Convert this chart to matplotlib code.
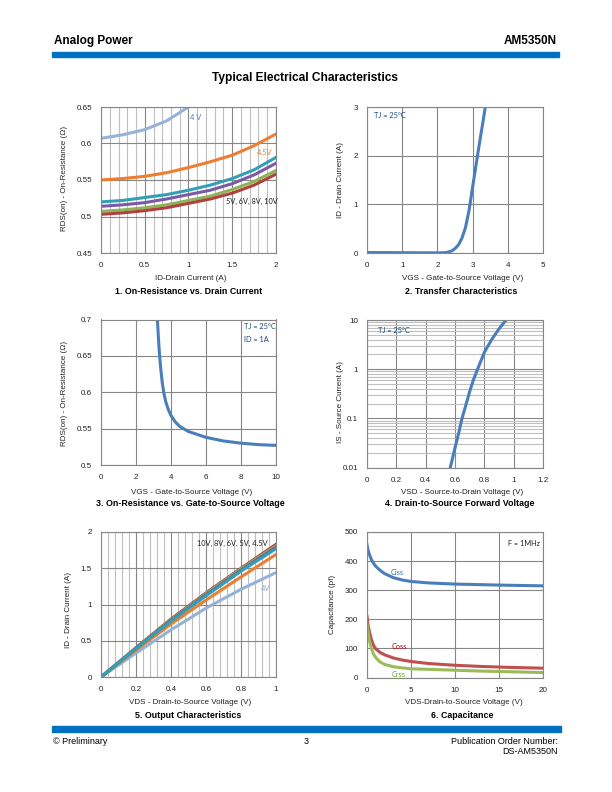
import matplotlib.pyplot as plt
from matplotlib.patches import Rectangle
from matplotlib.ticker import MultipleLocator, FormatStrFormatter, LogLocator, FuncFormatter

plt.rcParams['font.family'] = ['Liberation Sans', 'DejaVu Sans']

# ================= DATA =================

# 1. On-Resistance vs. Drain Current
id_x = [0, 0.25, 0.5, 0.75, 1.0, 1.25, 1.5, 1.75, 2.0]
rds_4v = [0.607, 0.612, 0.619, 0.631, 0.650, 0.672]
rds_45v = [0.550, 0.552, 0.555, 0.560, 0.567, 0.575, 0.584, 0.597, 0.613]
rds_5v = [0.520, 0.522, 0.526, 0.530, 0.536, 0.543, 0.552, 0.564, 0.581]
rds_6v = [0.514, 0.516, 0.519, 0.524, 0.530, 0.536, 0.545, 0.557, 0.573]
rds_8v = [0.507, 0.509, 0.512, 0.516, 0.522, 0.528, 0.537, 0.548, 0.563]
rds_10v = [0.503, 0.505, 0.508, 0.512, 0.518, 0.524, 0.532, 0.543, 0.558]

# 2. Transfer Characteristics
vgs_tr = [0, 1, 2, 2.2, 2.3, 2.4, 2.5, 2.6, 2.7, 2.8, 2.9, 3.0, 3.1, 3.2, 3.3, 3.36]
id_tr = [0.01, 0.006, 0.003, 0.006, 0.018, 0.04, 0.09, 0.17, 0.31, 0.53, 0.88, 1.35, 1.82, 2.28, 2.72, 3.0]

# 3. On-Resistance vs. Gate-to-Source Voltage
vgs_r = [3.22, 3.26, 3.3, 3.35, 3.4, 3.5, 3.6, 3.7, 3.85, 4.0, 4.25, 4.5, 5, 5.5, 6, 7, 8, 9, 10]
rds_vgs = [0.70, 0.684, 0.667, 0.650, 0.636, 0.613, 0.598, 0.587, 0.576, 0.568, 0.559, 0.553,
           0.546, 0.542, 0.538, 0.533, 0.530, 0.528, 0.527]

# 4. Drain-to-Source Forward Voltage
vsd = [0.568, 0.60, 0.625, 0.648, 0.675, 0.70, 0.725, 0.754, 0.80, 0.85, 0.90, 0.925, 0.948]
is_cur = [0.01, 0.025, 0.05, 0.1, 0.19, 0.35, 0.6, 1.0, 2.2, 4.0, 6.6, 8.2, 10]

# 5. Output Characteristics
vds_out = [0, 0.2, 0.4, 0.6, 0.8, 1.0]
out_4v = [0, 0.33, 0.65, 0.95, 1.21, 1.44]
out_45v = [0, 0.37, 0.73, 1.06, 1.38, 1.69]
out_5v = [0, 0.39, 0.77, 1.12, 1.46, 1.77]
out_6v = [0, 0.395, 0.78, 1.135, 1.475, 1.79]
out_8v = [0, 0.40, 0.79, 1.15, 1.49, 1.81]
out_10v = [0, 0.405, 0.80, 1.16, 1.50, 1.83]

# 6. Capacitance
vds_cap = [0, 0.1, 0.25, 0.5, 0.75, 1, 1.5, 2, 3, 4, 5, 7, 10, 13, 16, 20]
ciss = [456, 440, 425, 405, 392, 382, 368, 357, 343, 335, 330, 325, 321, 319, 317, 315]
coss = [210, 185, 160, 130, 110, 98, 86, 78, 67, 60, 55, 48, 42, 38, 35, 32]
crss = [185, 160, 130, 100, 80, 68, 53, 45, 37, 33, 30, 28, 25, 22, 20, 17]

# ================= STYLE =================

W, H = 612, 792
MAJOR = '#868686'
MINOR = '#BFBFBF'
BLUE = '#4A7EBB'
NAVY = '#1F497D'
NOTE = ['Lato', 'DejaVu Sans']
LW = 2.2


def px(x, y):
    return x / W, 1 - y / H


def make_ax(x0, x1, y0, y1):
    ax = fig.add_axes([x0 / W, 1 - y1 / H, (x1 - x0) / W, (y1 - y0) / H])
    for s in ax.spines.values():
        s.set_color(MAJOR)
        s.set_linewidth(0.8)
    ax.tick_params(which='both', length=0, labelsize=5.8, pad=6.5, colors='#222222')
    ax.set_axisbelow(True)
    return ax


def labels(cx, ty, xlabel, title, lx, ly, ylabel):
    fig.text(*px(cx, ty), xlabel, ha='center', va='center', fontsize=5.8, color='#222222')
    fig.text(*px(cx - 2, ty + 12), title, ha='center', va='center', fontsize=6.4, fontweight='bold')
    fig.text(*px(lx, ly), ylabel, ha='center', va='center', fontsize=5.8, rotation=90, color='#222222')


fig = plt.figure(figsize=(6.12, 7.92), dpi=100)

# ================= HEADER / FOOTER =================

fig.text(*px(54, 41), "Analog Power", fontsize=8.5, fontweight='bold', va='center')
fig.text(*px(557, 41), "AM5350N", fontsize=8.5, fontweight='bold', va='center', ha='right')
fig.add_artist(Rectangle(px(52, 57), 507 / W, 5 / H, transform=fig.transFigure, color='#0070C0'))
fig.text(*px(305.5, 78), "Typical Electrical Characteristics", fontsize=8.6, fontweight='bold',
         ha='center', va='center')

fig.add_artist(Rectangle(px(52, 732), 509 / W, 6 / H, transform=fig.transFigure, color='#0070C0'))
fig.text(*px(53, 741), "© Preliminary", fontsize=6.5, va='center')
fig.text(*px(306, 741), "3", fontsize=6.5, va='center', ha='center')
fig.text(*px(558, 741), "Publication Order Number:", fontsize=6.5, va='center', ha='right')
fig.text(*px(558, 751), "DS-AM5350N", fontsize=6.5, va='center', ha='right')

# ================= 1. ON-RESISTANCE VS DRAIN CURRENT =================

ax1 = make_ax(101, 276, 107, 253)
ax1.plot(id_x[:len(rds_4v)], rds_4v, color='#95B3D7', lw=LW)
ax1.plot(id_x, rds_45v, color='#ED7D31', lw=LW)
ax1.plot(id_x, rds_5v, color='#31A0B5', lw=LW)
ax1.plot(id_x, rds_6v, color='#7B5BA5', lw=LW)
ax1.plot(id_x, rds_8v, color='#8DB458', lw=LW)
ax1.plot(id_x, rds_10v, color='#B0403D', lw=LW)
ax1.set_xlim(0, 2)
ax1.set_ylim(0.45, 0.65)
ax1.xaxis.set_major_locator(MultipleLocator(0.5))
ax1.xaxis.set_minor_locator(MultipleLocator(0.1))
ax1.yaxis.set_major_locator(MultipleLocator(0.05))
ax1.xaxis.set_major_formatter(FormatStrFormatter('%g'))
ax1.yaxis.set_major_formatter(FuncFormatter(lambda v, p: '%g' % round(v, 2)))
ax1.grid(which='major', color=MAJOR, lw=0.8)
ax1.grid(which='minor', axis='x', color=MINOR, lw=0.8)
ax1.text(1.08, 0.636, "4 V", color='#4F81BD', fontsize=5.3, ha='center', va='center', family=NOTE)
ax1.text(1.87, 0.588, "4.5V", color='#ED7D31', fontsize=5.3, ha='center', va='center', family=NOTE)
ax1.text(1.72, 0.521, "5V, 6V, 8V, 10V", color='#222222', fontsize=5.3, ha='center', va='center',
         family=NOTE)
labels(191, 279, "ID-Drain Current (A)", "1. On-Resistance vs. Drain Current", 65, 178,
       "RDS(on) - On-Resistance (Ω)")

# ================= 2. TRANSFER CHARACTERISTICS =================

ax2 = make_ax(367, 543, 107, 253)
ax2.plot(vgs_tr, id_tr, color=BLUE, lw=LW)
ax2.set_xlim(0, 5)
ax2.set_ylim(0, 3)
ax2.xaxis.set_major_locator(MultipleLocator(1))
ax2.yaxis.set_major_locator(MultipleLocator(1))
ax2.grid(which='major', color=MAJOR, lw=0.8)
ax2.text(0.19, 2.82, "TJ = 25°C", color=NAVY, fontsize=5.3, va='center', family=NOTE)
labels(463, 279, "VGS - Gate-to-Source Voltage (V)", "2. Transfer Characteristics", 341, 180,
       "ID - Drain Current (A)")

# ================= 3. ON-RESISTANCE VS GATE VOLTAGE =================

ax3 = make_ax(101, 276, 319.5, 465)
ax3.plot(vgs_r, rds_vgs, color=BLUE, lw=LW)
ax3.set_xlim(0, 10)
ax3.set_ylim(0.5, 0.7)
ax3.xaxis.set_major_locator(MultipleLocator(2))
ax3.yaxis.set_major_locator(MultipleLocator(0.05))
ax3.yaxis.set_major_formatter(FuncFormatter(lambda v, p: '%g' % round(v, 2)))
ax3.grid(which='major', color=MAJOR, lw=0.8)
ax3.text(8.19, 0.690, "TJ = 25°C", color=NAVY, fontsize=5.3, va='center', family=NOTE)
ax3.text(8.19, 0.6725, "ID = 1A", color=NAVY, fontsize=5.3, va='center', family=NOTE)
labels(192, 492, "VGS - Gate-to-Source Voltage (V)", "3. On-Resistance vs. Gate-to-Source Voltage",
       65, 393, "RDS(on) - On-Resistance (Ω)")

# ================= 4. DRAIN-TO-SOURCE FORWARD VOLTAGE =================

ax4 = make_ax(367, 543, 320, 467.5)
ax4.plot(vsd, is_cur, color=BLUE, lw=LW)
ax4.set_yscale('log')
ax4.set_xlim(0, 1.2)
ax4.set_ylim(0.01, 10)
ax4.xaxis.set_major_locator(MultipleLocator(0.2))
ax4.xaxis.set_major_formatter(FuncFormatter(lambda v, p: '%g' % round(v, 1)))
ax4.yaxis.set_major_locator(LogLocator(base=10))
ax4.yaxis.set_minor_locator(LogLocator(base=10, subs=range(2, 10)))
ax4.yaxis.set_major_formatter(FuncFormatter(lambda v, p: '%g' % v))
ax4.yaxis.set_minor_formatter(FuncFormatter(lambda v, p: ''))
ax4.grid(which='major', color=MAJOR, lw=0.8)
ax4.grid(which='minor', axis='y', color=MINOR, lw=0.8)
ax4.text(0.075, 6.07, "TJ = 25°C", color=NAVY, fontsize=5.3, va='center', family=NOTE)
labels(462, 492, "VSD - Source-to-Drain Voltage (V)", "4. Drain-to-Source Forward Voltage",
       340, 402, "IS - Source Current (A)")

# ================= 5. OUTPUT CHARACTERISTICS =================

ax5 = make_ax(101, 276, 532, 677)
ax5.plot(vds_out, out_4v, color='#95B3D7', lw=LW)
ax5.plot(vds_out, out_45v, color='#ED7D31', lw=LW)
ax5.plot(vds_out, out_10v, color='#B0403D', lw=LW)
ax5.plot(vds_out, out_8v, color='#8DB458', lw=LW)
ax5.plot(vds_out, out_6v, color='#7B5BA5', lw=LW)
ax5.plot(vds_out, out_5v, color='#31A0B5', lw=LW)
ax5.set_xlim(0, 1)
ax5.set_ylim(0, 2)
ax5.xaxis.set_major_locator(MultipleLocator(0.2))
ax5.xaxis.set_minor_locator(MultipleLocator(0.04))
ax5.yaxis.set_major_locator(MultipleLocator(0.5))
ax5.xaxis.set_major_formatter(FuncFormatter(lambda v, p: '%g' % round(v, 1)))
ax5.yaxis.set_major_formatter(FormatStrFormatter('%g'))
ax5.grid(which='major', color=MAJOR, lw=0.8)
ax5.grid(which='minor', axis='x', color=MINOR, lw=0.8)
ax5.text(0.749, 1.84, "10V, 8V, 6V, 5V, 4.5V", color='#222222', fontsize=5.3, ha='center',
         va='center', family=NOTE)
ax5.text(0.94, 1.22, "4V", color='#8EA9DB', fontsize=5.3, ha='center', va='center', family=NOTE)
labels(190.5, 703, "VDS - Drain-to-Source Voltage (V)", "5. Output Characteristics", 69, 610,
       "ID - Drain Current (A)")

# ================= 6. CAPACITANCE =================

ax6 = make_ax(367, 543, 532, 677.5)
ax6.plot(vds_cap, ciss, color=BLUE, lw=LW)
ax6.plot(vds_cap, coss, color='#C0504D', lw=LW)
ax6.plot(vds_cap, crss, color='#9BBB59', lw=LW)
ax6.set_xlim(0, 20)
ax6.set_ylim(0, 500)
ax6.xaxis.set_major_locator(MultipleLocator(5))
ax6.yaxis.set_major_locator(MultipleLocator(100))
ax6.grid(which='major', color=MAJOR, lw=0.8)
ax6.text(3.44, 361, "Ciss", color='#2E75B6', fontsize=5.3, ha='center', va='center', family=NOTE)
ax6.text(3.65, 107, "Coss", color='#C00000', fontsize=5.3, ha='center', va='center', family=NOTE)
ax6.text(3.55, 9, "Crss", color='#70A030', fontsize=5.3, ha='center', va='center', family=NOTE)
ax6.text(17.8, 462, "F = 1MHz", color='#222222', fontsize=5.3, ha='center', va='center', family=NOTE)
labels(464, 703, "VDS-Drain-to-Source Voltage (V)", "6. Capacitance", 333, 604,
       "Capacitance (pf)")

plt.savefig("out.png", dpi=100)
